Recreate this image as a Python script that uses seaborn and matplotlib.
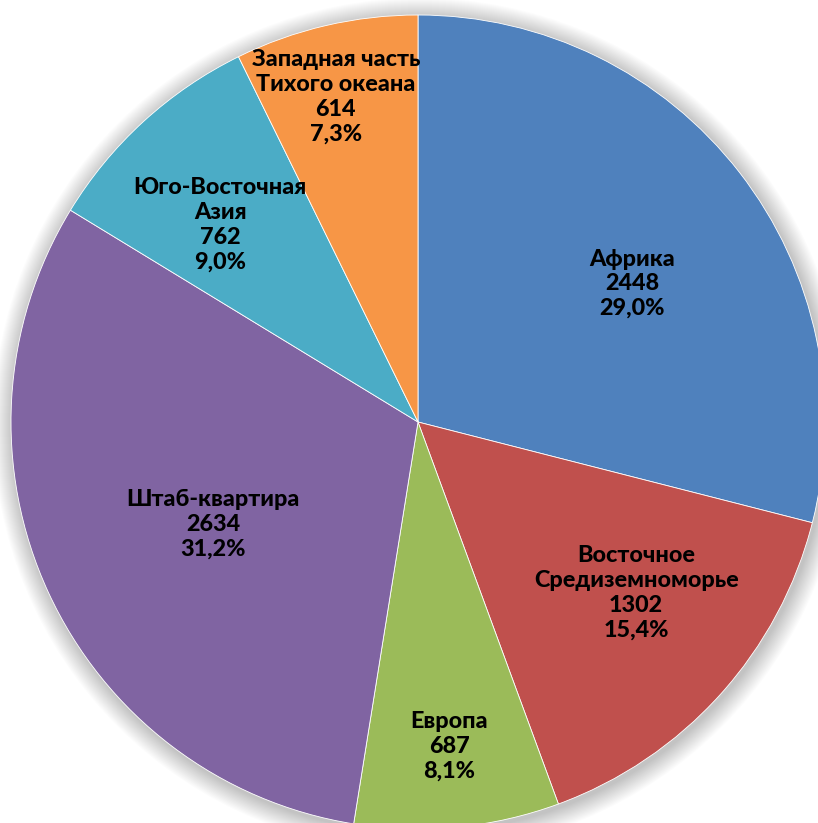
import numpy as np
import matplotlib
matplotlib.use("Agg")
import matplotlib.pyplot as plt
from matplotlib.patches import Circle
import seaborn as sns

# Regions and staff counts
regions = ["Африка", "Восточное\nСредиземноморье", "Европа", "Штаб-квартира",
           "Юго-Восточная\nАзия", "Западная часть\nТихого океана"]
counts = [2448, 1302, 687, 2634, 762, 614]
colors = ["#4F81BD", "#C0504D", "#9BBB59", "#8064A2", "#4BACC6", "#F79646"]
# data label placement: fraction of radius and angular shift from wedge middle (deg)
label_radius = [0.626, 0.681, 0.80, 0.563, 0.686, 0.824]
label_shift = [-5.0, 4.0, 0.0, 1.7, 2.7, 1.1]

sns.set_style("white")
plt.rcParams["font.family"] = ["Lato", "DejaVu Sans"]

W, H = 818, 823
fig = plt.figure(figsize=(W / 100, H / 100), dpi=100)
ax = fig.add_axes([0, 0, 1, 1])

cx, cy, R = 418, H - 422, 407

# soft outer shadow
for k in range(20, 0, -1):
    ax.add_patch(Circle((cx + 2, cy - 3), R + k, facecolor="black",
                        alpha=0.012, edgecolor="none", zorder=0))

pal = sns.color_palette(colors)
wedges, _ = ax.pie(counts, colors=pal, startangle=90, counterclock=False,
                   center=(cx, cy), radius=R, frame=True,
                   wedgeprops=dict(edgecolor="white", linewidth=0.6))
ax.set_xlim(0, W)
ax.set_ylim(0, H)
ax.set_aspect("equal")
ax.axis("off")

total = sum(counts)
for w, name, val, fr, sh in zip(wedges, regions, counts, label_radius, label_shift):
    ang = np.deg2rad((w.theta1 + w.theta2) / 2 + sh)
    x = cx + fr * R * np.cos(ang)
    y = cy + fr * R * np.sin(ang)
    pct = f"{100 * val / total:.1f}".replace(".", ",") + "%"
    ax.text(x, y, f"{name}\n{val}\n{pct}", ha="center", va="center",
            fontsize=16.8, fontweight="black", color="black",
            linespacing=1.22, zorder=5)

fig.savefig("out.png", dpi=100)
